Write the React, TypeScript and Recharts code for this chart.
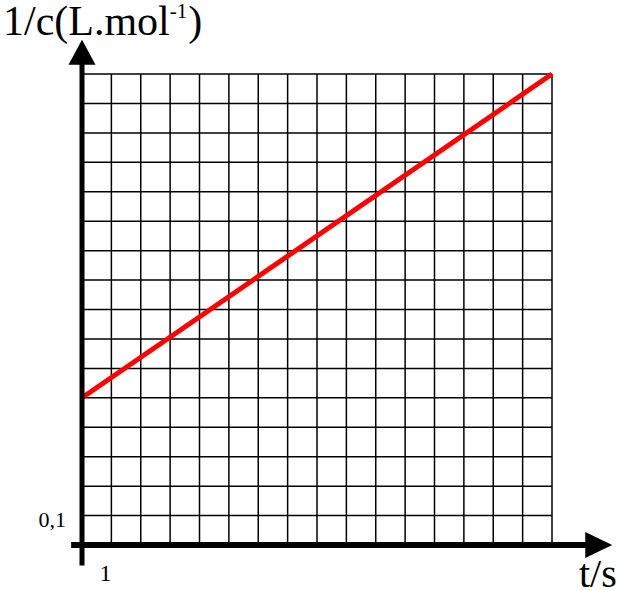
import React from "react";
import { LineChart, Line, XAxis, YAxis, CartesianGrid, ReferenceLine } from "recharts";

// ---- data ----
const times = [0, 16];
const inverseConc = [0.5, 1.6];
const xTicks = [0, 1, 2, 3, 4, 5, 6, 7, 8, 9, 10, 11, 12, 13, 14, 15, 16];
const yTicks = [0, 0.1, 0.2, 0.3, 0.4, 0.5, 0.6, 0.7, 0.8, 0.9, 1.0, 1.1, 1.2, 1.3, 1.4, 1.5, 1.6];
const xTickLabels: Record<string, string> = { "1": "1" };
const yTickLabels: Record<string, string> = { "0.1": "0,1" };
const xAxisExtent = [-0.37, 18.05];
const yAxisExtent = [-0.07, 1.716];
const yTitleMain = "1/c(L.mol";
const yTitleSup = "-1";
const yTitleEnd = ")";
const xTitle = "t/s";

const data = times.map((t, i) => ({ t, v: inverseConc[i] }));

const FONT = "'Liberation Serif', 'Times New Roman', serif";

function arrowShape(thickness: number, headLen: number, headHalf: number) {
  return (props: any) => {
    const x1 = Number(props.x1), y1 = Number(props.y1), x2 = Number(props.x2), y2 = Number(props.y2);
    const dx = x2 - x1, dy = y2 - y1;
    const len = Math.hypot(dx, dy) || 1;
    const ux = dx / len, uy = dy / len;
    const bx = x2 - ux * headLen, by = y2 - uy * headLen;
    const px = -uy, py = ux;
    return (
      <g>
        <line x1={x1} y1={y1} x2={bx + ux} y2={by + uy} stroke="#000" strokeWidth={thickness} />
        <polygon
          points={`${x2},${y2} ${bx + px * headHalf},${by + py * headHalf} ${bx - px * headHalf},${by - py * headHalf}`}
          fill="#000"
        />
      </g>
    );
  };
}

const XTick = (p: any) => {
  const label = xTickLabels[String(p.payload.value)] ?? "";
  if (!label) return <g />;
  return (
    <text x={p.x - 6} y={p.y + 36} textAnchor="middle" fontFamily={FONT} fontSize={24} fill="#000">
      {label}
    </text>
  );
};

const YTick = (p: any) => {
  const label = yTickLabels[String(p.payload.value)] ?? "";
  if (!label) return <g />;
  return (
    <text x={p.x - 16} y={p.y + 11} textAnchor="end" fontFamily={FONT} fontSize={22} fill="#000">
      {label}
    </text>
  );
};

export default function App() {
  return (
    <div style={{ position: "absolute", left: 0, top: 0, width: 620, height: 590, background: "#fff" }}>
      <LineChart width={620} height={590} data={data} margin={{ top: 74, right: 68, bottom: 44, left: 81 }}>
        <CartesianGrid stroke="#000" strokeWidth={1.5} strokeDasharray="" />
        <XAxis
          dataKey="t"
          type="number"
          domain={[0, 16]}
          ticks={xTicks}
          interval={0}
          height={1}
          tickSize={0}
          tickMargin={0}
          axisLine={false}
          tickLine={false}
          tick={XTick}
        />
        <YAxis
          type="number"
          domain={[0, 1.6]}
          ticks={yTicks}
          interval={0}
          width={1}
          tickSize={0}
          tickMargin={0}
          axisLine={false}
          tickLine={false}
          tick={YTick}
        />
        <Line
          type="linear"
          dataKey="v"
          stroke="#ff0000"
          strokeWidth={5}
          dot={false}
          activeDot={false}
          isAnimationActive={false}
        />
        <ReferenceLine
          segment={[{ x: xAxisExtent[0], y: 0 }, { x: xAxisExtent[1], y: 0 }]}
          ifOverflow="visible"
          shape={arrowShape(6, 27, 13)}
        />
        <ReferenceLine
          segment={[{ x: 0, y: yAxisExtent[0] }, { x: 0, y: yAxisExtent[1] }]}
          ifOverflow="visible"
          shape={arrowShape(5, 25, 13.5)}
        />
      </LineChart>
      <svg
        width={620}
        height={590}
        style={{ position: "absolute", left: 0, top: 0, pointerEvents: "none" }}
      >
        <text x={3} y={35} fontFamily={FONT} fontSize={42} fill="#000">
          <tspan>{yTitleMain}</tspan>
          <tspan dy={-17} fontSize={21}>{yTitleSup}</tspan>
          <tspan dx={1} dy={17} fontSize={42}>{yTitleEnd}</tspan>
        </text>
        <text x={579} y={587} fontFamily={FONT} fontSize={40} fill="#000">
          {xTitle}
        </text>
      </svg>
    </div>
  );
}
